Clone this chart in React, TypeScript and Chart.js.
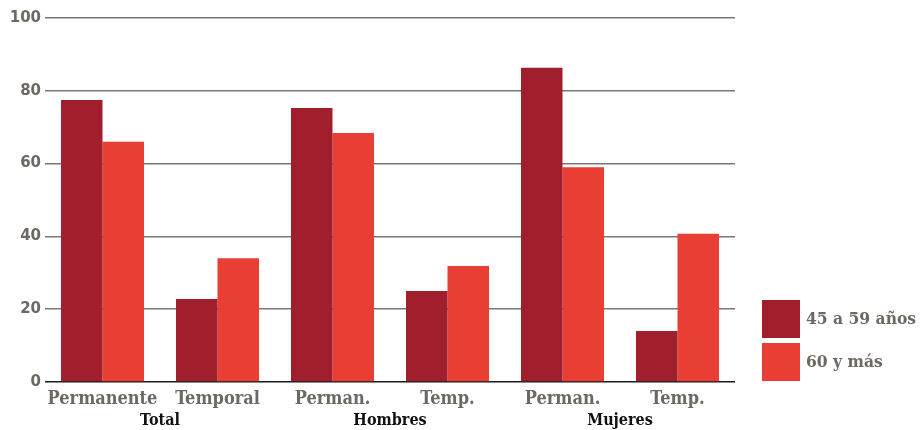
import React, { useEffect, useRef } from "react";
import { Chart, registerables } from "chart.js";
Chart.register(...registerables);

const categories = ["Permanente", "Temporal", "Perman.", "Temp.", "Perman.", "Temp."];
const groups = ["Total", "Hombres", "Mujeres"];
const series1Label = "45 a 59 años";
const series2Label = "60 y más";
const series1 = [77.5, 22.8, 75.3, 25, 86.3, 14];
const series2 = [66, 34, 68.4, 31.9, 59, 40.7];
const yTicks = [0, 20, 40, 60, 80, 100];

const DARK = "#a11f2d";
const LIGHT = "#e83e33";
const TEXT = "#6d6861";

const extrasPlugin = {
  id: "extras",
  afterDraw(chart: any) {
    const ctx = chart.ctx;
    const x = chart.scales.x;
    ctx.save();
    // group labels
    ctx.font = "bold 16px 'DejaVu Serif Condensed', 'DejaVu Serif', serif";
    ctx.fillStyle = "#111";
    ctx.textAlign = "center";
    ctx.textBaseline = "middle";
    groups.forEach((g, i) => {
      const cx = (x.getPixelForValue(i * 2) + x.getPixelForValue(i * 2 + 1)) / 2;
      ctx.fillText(g, cx, 421);
    });
    // legend
    const items = chart.data.datasets;
    const boxX = 762;
    const boxY = [300, 343];
    items.forEach((ds: any, i: number) => {
      ctx.fillStyle = ds.backgroundColor;
      ctx.fillRect(boxX, boxY[i], 38, 38);
      ctx.fillStyle = TEXT;
      ctx.textAlign = "left";
      ctx.font = "bold 17.3px 'DejaVu Serif Condensed', 'DejaVu Serif', serif";
      ctx.fillText(ds.label, 806, boxY[i] + 20);
    });
    ctx.restore();
  },
};

export default function App() {
  const ref = useRef<HTMLCanvasElement>(null);
  useEffect(() => {
    if (!ref.current) return;
    const chart = new Chart(ref.current, {
      type: "bar",
      data: {
        labels: categories,
        datasets: [
          { label: series1Label, data: series1, backgroundColor: DARK, borderWidth: 0 },
          { label: series2Label, data: series2, backgroundColor: LIGHT, borderWidth: 0 },
        ],
      },
      options: {
        animation: false,
        responsive: false,
        layout: { padding: { top: 18, right: 187, left: 0, bottom: 0 } },
        plugins: { legend: { display: false }, tooltip: { enabled: false } },
        datasets: { bar: { categoryPercentage: 0.722, barPercentage: 1 } },
        scales: {
          x: {
            grid: { display: false, drawTicks: false },
            border: { display: false },
            ticks: {
              color: TEXT,
              padding: 7,
              autoSkip: false,
              maxRotation: 0,
              minRotation: 0,
              font: { family: "'DejaVu Serif Condensed', 'DejaVu Serif', serif", weight: "bold", size: 18 },
            },
            afterFit: (s: any) => { s.height = 48; s.paddingLeft = 0; s.paddingRight = 0; },
          },
          y: {
            min: 0,
            max: 100,
            z: 1,
            afterBuildTicks: (s: any) => { s.ticks = yTicks.map((v) => ({ value: v })); },
            grid: {
              drawTicks: false,
              color: (c: any) => (c.tick && c.tick.value === 0 ? "#1a1a1a" : "rgba(35,25,25,0.6)"),
              lineWidth: 1.5,
            },
            border: { display: false },
            ticks: {
              color: TEXT,
              padding: 4,
              font: { family: "'DejaVu Sans', sans-serif", weight: "bold", size: 15 },
            },
            afterFit: (s: any) => { s.width = 45; },
          },
        },
      },
      plugins: [extrasPlugin],
    });
    return () => chart.destroy();
  }, []);
  return (
    <div style={{ position: "fixed", left: 0, top: 0, width: 922, height: 430, background: "#fff" }}>
      <canvas ref={ref} width={922} height={430} />
    </div>
  );
}
